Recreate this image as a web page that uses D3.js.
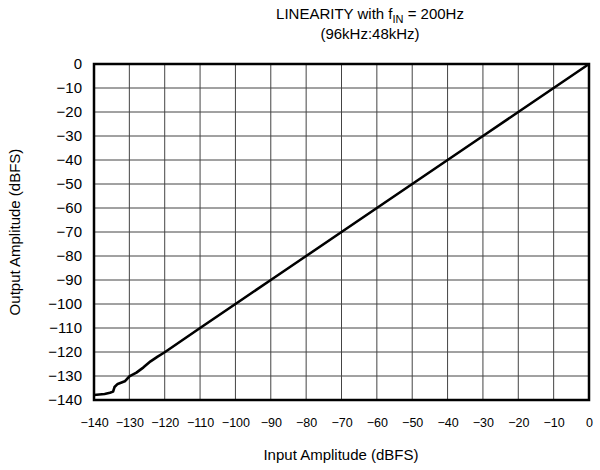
<!DOCTYPE html>
<html><head><meta charset="utf-8">
<script src="https://cdn.jsdelivr.net/npm/d3@7"></script>
<style>body{margin:0;background:#fff}svg{display:block}text{font-family:"Liberation Sans",Arial,sans-serif;fill:#000}</style>
</head><body>
<script>
const xTicks = [-140,-130,-120,-110,-100,-90,-80,-70,-60,-50,-40,-30,-20,-10,0];
const yTicks = [0,-10,-20,-30,-40,-50,-60,-70,-80,-90,-100,-110,-120,-130,-140];
const inputDb  = [-140,-137,-135.5,-134.6,-134.2,-133.3,-132.2,-131.3,-130,-128,-126,-124,-122,-120,-110,-100,-90,-80,-70,-60,-50,-40,-30,-20,-10,0];
const outputDb = [-137.9,-137.5,-137,-136.5,-134.6,-133.3,-132.7,-132.2,-130.2,-128.6,-126.4,-123.9,-121.9,-120.1,-110,-100,-90,-80,-70,-60,-50,-40,-30,-20,-10,0];

const W=600,H=470, L=94, R=589, T=64, B=400;
const svg=d3.select("body").append("svg").attr("width",W).attr("height",H);
const x=d3.scaleLinear().domain([-140,0]).range([L,R]);
const y=d3.scaleLinear().domain([-140,0]).range([B,T]);
const fmt=d=>d<0?"\u2212"+Math.abs(d):String(d);

// grid
svg.append("g").selectAll("line").data(xTicks).join("line")
  .attr("x1",d=>x(d)).attr("x2",d=>x(d)).attr("y1",T).attr("y2",B)
  .attr("stroke","#444").attr("stroke-width",1);
svg.append("g").selectAll("line").data(yTicks).join("line")
  .attr("x1",L).attr("x2",R).attr("y1",d=>y(d)).attr("y2",d=>y(d))
  .attr("stroke","#444").attr("stroke-width",1);

// axes labels via d3 axes
const xa=svg.append("g").attr("transform",`translate(0,${B})`)
  .call(d3.axisBottom(x).tickValues(xTicks).tickFormat(fmt).tickSize(0).tickPadding(18));
xa.select(".domain").remove();
xa.selectAll("text").attr("font-size",12.5).style("font-family","Liberation Sans, Arial, sans-serif");
const ya=svg.append("g").attr("transform",`translate(${L},0)`)
  .call(d3.axisLeft(y).tickValues(yTicks).tickFormat(fmt).tickSize(0).tickPadding(12));
ya.select(".domain").remove();
ya.selectAll("text").attr("font-size",15).style("font-family","Liberation Sans, Arial, sans-serif");

// data line
svg.append("path").datum(inputDb.map((v,i)=>[v,outputDb[i]]))
  .attr("d",d3.line().x(d=>x(d[0])).y(d=>y(d[1])))
  .attr("fill","none").attr("stroke","#000").attr("stroke-width",2.6).attr("stroke-linejoin","round");

// border
svg.append("rect").attr("x",L).attr("y",T).attr("width",R-L).attr("height",B-T)
  .attr("fill","none").attr("stroke","#000").attr("stroke-width",2.5);

// titles
const t1=svg.append("text").attr("x",370).attr("y",19).attr("text-anchor","middle").attr("font-size",15);
t1.append("tspan").text("LINEARITY with f");
t1.append("tspan").attr("font-size",11).attr("dy",4).text("IN");
t1.append("tspan").attr("dy",-4).text(" = 200Hz");
svg.append("text").attr("x",370).attr("y",39).attr("text-anchor","middle").attr("font-size",15).text("(96kHz:48kHz)");
svg.append("text").attr("x",341).attr("y",460).attr("text-anchor","middle").attr("font-size",15).text("Input Amplitude (dBFS)");
svg.append("text").attr("transform","translate(20,232) rotate(-90)").attr("text-anchor","middle").attr("font-size",15).text("Output Amplitude (dBFS)");
</script>
</body></html>
